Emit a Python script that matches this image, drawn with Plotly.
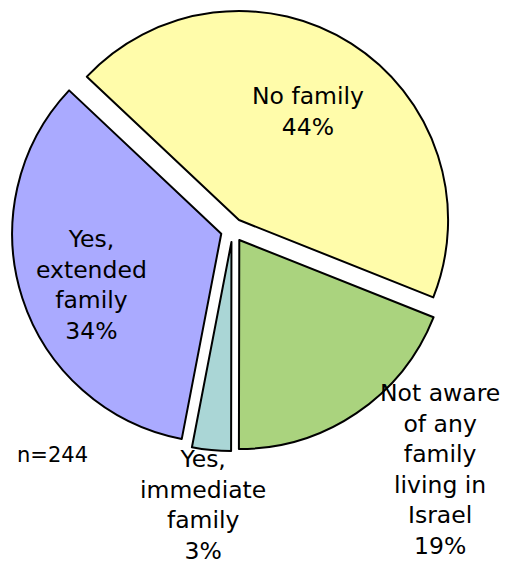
import plotly.graph_objects as go

# Data
labels = ["No family", "Not aware of any family living in Israel",
          "Yes, immediate family", "Yes, extended family"]
label_lines = ["No family", "Not aware<br>of any<br>family<br>living in<br>Israel",
               "Yes,<br>immediate<br>family", "Yes,<br>extended<br>family"]
values = [44, 19, 3, 34]
colors = ["#FFFCAA", "#AAD37E", "#AAD6D6", "#AAAAFF"]
sample_note = "n=244"

W, H = 508, 566
OFF = 8  # page offset of the figure (body margin)
# pie box (page pixels)
cx, cy, half = 232.6 - OFF, 230.1 - OFF, 221.0

fig = go.Figure(go.Pie(
    labels=labels, values=values, sort=False, direction="clockwise",
    rotation=-46.7, pull=0.057, textinfo="none", hoverinfo="label+percent",
    marker=dict(colors=colors, line=dict(color="black", width=2)),
    domain=dict(x=[(cx - half) / W, (cx + half) / W],
                y=[1 - (cy + half) / H, 1 - (cy - half) / H]),
    showlegend=False,
))

# label positions in page pixels (text centers)
label_pos = [(308, 112), (440, 469), (203, 505), (91, 285)]
for txt, v, (px, py) in zip(label_lines, values, label_pos):
    fig.add_annotation(x=(px - OFF) / W, y=1 - (py - OFF) / H, xref="paper", yref="paper",
                       text=f"{txt}<br>{v}%", showarrow=False,
                       xanchor="center", yanchor="middle", align="center",
                       font=dict(family="DejaVu Sans", size=23.5, color="black"))

fig.add_annotation(x=(15 - OFF) / W, y=1 - (455 - OFF) / H, xref="paper", yref="paper",
                   text=sample_note, showarrow=False, xanchor="left", yanchor="middle",
                   font=dict(family="DejaVu Sans", size=21, color="black"))

fig.update_layout(width=W, height=H, margin=dict(l=0, r=0, t=0, b=0),
                  paper_bgcolor="white", plot_bgcolor="white")
fig.write_html("out.html")
